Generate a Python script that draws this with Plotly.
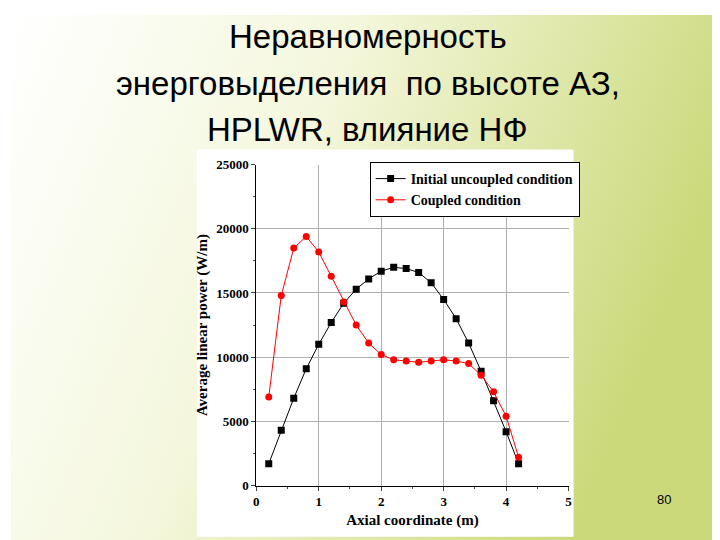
import plotly.graph_objects as go
import base64

x = [0.2,0.4,0.6,0.8,1.0,1.2,1.4,1.6,1.8,2.0,2.2,2.4,2.6,2.8,3.0,3.2,3.4,3.6,3.8,4.0,4.2]
uncoupled = [1700,4300,6800,9100,11000,12700,14200,15300,16100,16700,17000,16900,16600,15800,14500,13000,11100,8900,6600,4200,1700]
coupled = [6900,14800,18500,19400,18200,16300,14300,12500,11100,10200,9800,9700,9600,9700,9800,9700,9500,8600,7300,5400,2200]
title_lines = ["Неравномерность", "энерговыделения  по высоте АЗ,", "HPLWR, влияние НФ"]

svg = ('<svg xmlns="http://www.w3.org/2000/svg" width="720" height="540">'
       '<defs><linearGradient id="g" x1="0" y1="0" x2="1" y2="0.3">'
       '<stop offset="0" stop-color="#ffffff"/><stop offset="0.45" stop-color="#f4f7dc"/>'
       '<stop offset="1" stop-color="#cbd97a"/></linearGradient></defs>'
       '<rect width="720" height="540" fill="url(#g)"/></svg>')
uri = "data:image/svg+xml;base64," + base64.b64encode(svg.encode()).decode()

fig = go.Figure()
fig.add_trace(go.Scatter(x=x, y=uncoupled, mode="lines+markers", name="<b>Initial uncoupled condition</b>",
                         line=dict(color="black", width=1), marker=dict(symbol="square", size=7, color="black")))
fig.add_trace(go.Scatter(x=x, y=coupled, mode="lines+markers", name="<b>Coupled condition</b>",
                         line=dict(color="red", width=1), marker=dict(symbol="circle", size=7, color="red")))

tf = dict(family="Liberation Serif", size=13, color="black", weight="bold")
anns = [dict(text=t, xref="paper", yref="paper", x=0.5, y=1 - (22 + 48 * i) / 540, yanchor="middle",
             showarrow=False, font=dict(family="Liberation Sans", size=33, color="black"))
        for i, t in enumerate(title_lines)]
anns.append(dict(text="80", xref="paper", yref="paper", x=0.928, y=0.06, showarrow=False,
                 font=dict(family="Liberation Sans", size=13, color="black")))

fig.update_layout(
    width=720, height=540, margin=dict(l=0, r=0, t=0, b=0),
    paper_bgcolor="rgba(0,0,0,0)", plot_bgcolor="white",
    images=[dict(source=uri, xref="paper", yref="paper", x=0, y=1, sizex=1, sizey=1,
                 sizing="stretch", layer="below")],
    shapes=[dict(type="rect", xref="paper", yref="paper", x0=0.261, x1=0.789, y0=0.006, y1=0.744,
                 fillcolor="white", line=dict(width=0), layer="below")],
    xaxis=dict(domain=[0.344, 0.782], range=[0, 5], dtick=1, showgrid=True, gridcolor="#b0b0b0",
               showline=True, linecolor="black", ticks="outside", ticklen=4,
               minor=dict(ticks="outside", ticklen=2, dtick=0.5, showgrid=False),
               tickfont=tf, zeroline=False,
               title=dict(text="<b>Axial coordinate (m)</b>", font=dict(family="Liberation Serif", size=15), standoff=6)),
    yaxis=dict(domain=[0.1037, 0.715], range=[0, 25000], dtick=5000, tickformat="d", showgrid=True, gridcolor="#b0b0b0",
               showline=True, linecolor="black", ticks="outside", ticklen=4,
               minor=dict(ticks="outside", ticklen=2, dtick=2500, showgrid=False),
               tickfont=tf, zeroline=False,
               title=dict(text="<b>Average linear power (W/m)</b>", font=dict(family="Liberation Serif", size=15), standoff=4)),
    legend=dict(x=0.503, y=0.72, xanchor="left", yanchor="top", bgcolor="white", bordercolor="black",
                borderwidth=1, font=dict(family="Liberation Serif", size=14), tracegroupgap=0),
    font=dict(family="Liberation Serif", color="black"),
    annotations=anns,
)
fig.write_html("out.html")
